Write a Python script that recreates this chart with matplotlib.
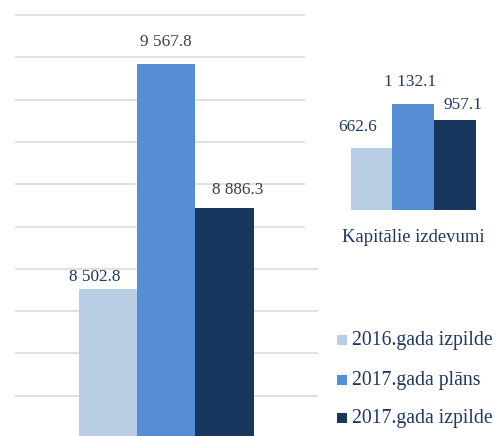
import matplotlib
matplotlib.use("Agg")
import matplotlib.pyplot as plt
from matplotlib.patches import Rectangle
import numpy as np

series = ["2016.gada izpilde", "2017.gada plāns", "2017.gada izpilde"]
total_values = [8502.8, 9567.8, 8886.3]
capital_values = [662.6, 1132.1, 957.1]
total_labels = ["8 502.8", "9 567.8", "8 886.3"]
capital_labels = ["662.6", "1 132.1", "957.1"]
capital_category = "Kapitālie izdevumi"
grid_values = list(range(8000, 9801, 200))

colors = ["#B9CDE5", "#558ED5", "#17375E"]
navy = "#1F3864"
gray = "#404040"

W, H = 496, 436
dpi = 100
plt.rcParams['font.family'] = ['Liberation Serif', 'DejaVu Serif']

fig = plt.figure(figsize=(W / dpi, H / dpi), dpi=dpi)

def px_axes(x0, y0, x1, y1, **kw):
    # pixel box (top-left origin) -> figure coords
    return fig.add_axes([x0 / W, 1 - y1 / H, (x1 - x0) / W, (y1 - y0) / H], **kw)

# ---- Left (total) panel ----
ax = px_axes(15, 0, 318, H, zorder=0)
bw_px = 58.3
c0 = 108.0
xs = np.arange(3)
ax.bar(xs, total_values, width=1.0, color=colors, bottom=0, zorder=3)
for g in grid_values:
    ax.axhline(g, color="#D9D9D9", lw=1.1, zorder=1)
ax.set_xlim((15 - c0) / bw_px, (318 - c0) / bw_px)
ppu = 0.2115  # px per unit
ax.set_ylim(8000 - 40.3 / ppu, 9800 + 15 / ppu)
ax.axis("off")

total_offsets = [(-13, 4), (0, 14), (13, 10)]  # pixel offsets
total_colors = [navy, gray, gray]
for i, (v, lab) in enumerate(zip(total_values, total_labels)):
    dx, dy = total_offsets[i]
    ax.annotate(lab, (xs[i], v), xytext=(dx * 72 / dpi, dy * 72 / dpi),
                textcoords="offset points", ha="center", va="bottom",
                fontsize=12.4, color=total_colors[i], zorder=5)

# White box covering right part of grid (top)
fig.patches.append(Rectangle((305 / W, 1 - 248 / H), (W - 305) / W, 248 / H,
                             transform=fig.transFigure, facecolor="white",
                             edgecolor="none", zorder=1))

# ---- Right (capital) panel ----
bw2 = 41.7
c02 = 371.5
ax2 = px_axes(330, 60, 496, 209.7, zorder=2)
ax2.bar(xs, capital_values, width=1.0, color=colors, zorder=3)
ax2.set_xlim((330 - c02) / bw2, (496 - c02) / bw2)
ppu2 = 0.0936
ax2.set_ylim(0, (209.7 - 60) / ppu2)
ax2.axis("off")
ax2.patch.set_alpha(0)

cap_offsets = [(-14, 13), (-3, 14), (8, 7)]
for i, (v, lab) in enumerate(zip(capital_values, capital_labels)):
    dx, dy = cap_offsets[i]
    ax2.annotate(lab, (xs[i], v), xytext=(dx * 72 / dpi, dy * 72 / dpi),
                 textcoords="offset points", ha="center", va="bottom",
                 fontsize=12.4, color=navy, zorder=5)
fig.text(413 / W, 1 - 237 / H, capital_category, ha="center", va="center",
         fontsize=13.4, color=navy, zorder=5)

# ---- Legend ----
leg_y = [340, 380, 418]
for i, name in enumerate(series):
    y = leg_y[i]
    fig.patches.append(Rectangle((337 / W, 1 - (y + 5) / H), 10 / W, 10 / H,
                                 transform=fig.transFigure, facecolor=colors[i],
                                 edgecolor="none", zorder=3))
    fig.text(352 / W, 1 - y / H, name, ha="left", va="center",
             fontsize=14.2, color=navy, zorder=5)

fig.savefig("out.png", dpi=dpi)
